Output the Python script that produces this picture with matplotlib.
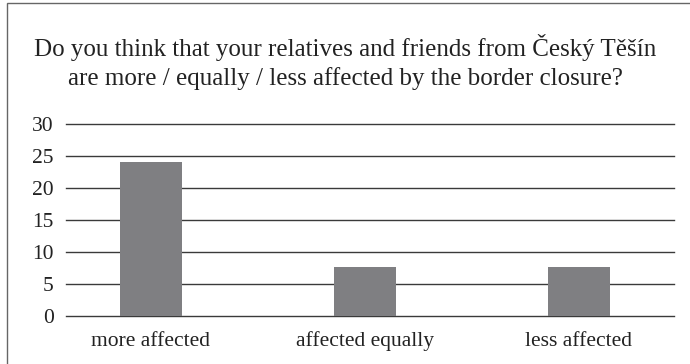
import matplotlib
matplotlib.use("Agg")
import matplotlib.pyplot as plt
from matplotlib.patches import Rectangle

categories = ["more affected", "affected equally", "less affected"]
values = [24, 7.6, 7.6]
y_ticks = [0, 5, 10, 15, 20, 25, 30]
title = ("Do you think that your relatives and friends from Český Těšín\n"
         "are more / equally / less affected by the border closure?")

plt.rcParams['font.family'] = ['Liberation Serif', 'DejaVu Serif']

fig = plt.figure(figsize=(6.9, 3.64), dpi=100)
ax = fig.add_axes([66 / 690, 1 - 316 / 364, 608 / 690, 192 / 364])

x = list(range(len(categories)))
ax.bar(x, values, width=0.29, color='#7f7f82', zorder=3)

ax.set_ylim(0, 30)
ax.set_xlim(-0.397, 2.444)
ax.set_yticks(y_ticks)
ax.set_xticks(x)
ax.set_xticklabels(categories)
for t in y_ticks:
    ax.axhline(t, color='#3a3a3a', linewidth=1.0, zorder=1, clip_on=False)
for s in ax.spines.values():
    s.set_visible(False)
ax.tick_params(axis='both', length=0, labelsize=15.5, colors='#222222')
ax.tick_params(axis='y', pad=9)
ax.tick_params(axis='x', pad=21.5)
for lbl in ax.get_xticklabels():
    lbl.set_va('baseline')

fig.text(0.5, 1 - 62 / 364, title, ha='center', va='center', fontsize=18,
         color='#222222', linespacing=1.3)

fig.patches.append(Rectangle((7 / 690, -0.1), 1.2, 1 - 3 / 364 + 0.1,
                             transform=fig.transFigure, fill=False,
                             edgecolor='#666666', linewidth=1.0))

fig.savefig("out.png", dpi=100)
